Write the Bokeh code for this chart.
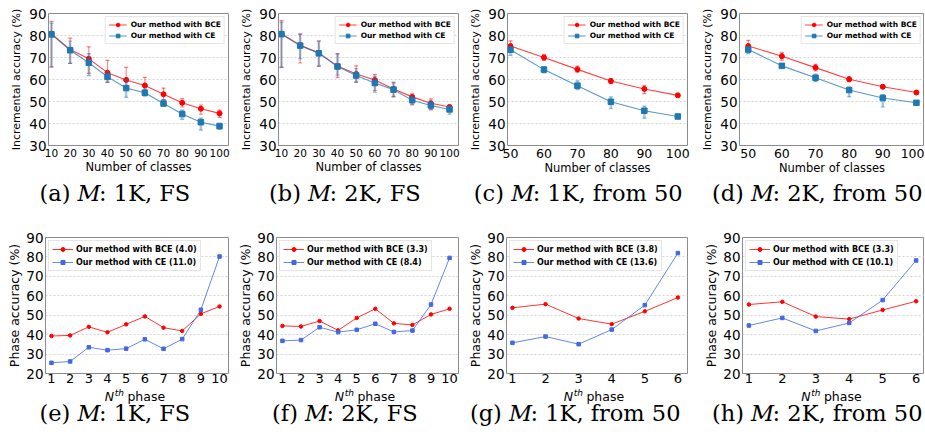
from bokeh.plotting import figure
from bokeh.models import ColumnDataSource, Legend, LegendItem, FixedTicker, Range1d
from bokeh.core.properties import value
from bokeh.layouts import row, column
from bokeh.embed import file_html
from bokeh.resources import INLINE

# ---------------- data ----------------
classes_fs = [10, 20, 30, 40, 50, 60, 70, 80, 90, 100]
classes_50 = [50, 60, 70, 80, 90, 100]
phases_fs = [1, 2, 3, 4, 5, 6, 7, 8, 9, 10]
phases_50 = [1, 2, 3, 4, 5, 6]
yticks_top = [30, 40, 50, 60, 70, 80, 90]
yticks_bot = [20, 30, 40, 50, 60, 70, 80, 90]

# (a) M: 1K, FS
a_bce = [80.8, 73.6, 69.4, 63.1, 59.8, 57.3, 53.3, 49.4, 46.7, 44.6]
a_bce_lo = [65.6, 67.3, 62.8, 58.7, 56.1, 55.1, 50.9, 47.5, 44.2, 42.8]
a_bce_hi = [86.4, 78.8, 74.8, 68.7, 65.5, 61.0, 56.1, 51.3, 48.4, 46.1]
a_ce = [80.5, 73.3, 67.6, 61.2, 56.1, 54.0, 49.1, 44.3, 40.6, 38.8]
a_ce_lo = [65.8, 67.3, 61.8, 58.7, 51.9, 52.4, 47.9, 41.9, 37.0, 37.4]
a_ce_hi = [85.6, 77.5, 71.8, 63.6, 59.9, 55.7, 50.9, 46.1, 42.4, 40.1]
# (b) M: 2K, FS
b_bce = [80.8, 75.6, 72.1, 66.1, 62.5, 59.8, 55.7, 52.1, 49.2, 47.5]
b_bce_lo = [65.5, 67.5, 66.0, 61.0, 58.8, 55.0, 52.3, 48.5, 46.2, 45.8]
b_bce_hi = [86.8, 80.5, 77.5, 71.8, 66.2, 62.3, 58.5, 53.5, 51.2, 48.5]
b_ce = [80.6, 75.4, 71.9, 65.9, 61.8, 58.4, 55.4, 50.6, 48.2, 46.4]
b_ce_lo = [65.5, 69.5, 66.2, 62.0, 58.8, 54.2, 52.0, 48.8, 46.5, 44.2]
b_ce_hi = [86.0, 80.8, 77.5, 71.5, 65.0, 61.5, 58.8, 52.5, 50.2, 48.0]
# (c) M: 1K, from 50
c_bce = [75.2, 70.0, 64.6, 59.3, 55.7, 52.8]
c_bce_lo = [73.3, 68.7, 63.3, 58.1, 53.6, 52.1]
c_bce_hi = [77.6, 71.3, 66.1, 60.4, 57.2, 53.3]
c_ce = [73.5, 64.5, 57.2, 49.9, 45.8, 43.2]
c_ce_lo = [71.0, 63.0, 55.4, 46.7, 42.4, 42.2]
c_ce_hi = [74.8, 65.8, 59.4, 52.1, 47.9, 44.0]
# (d) M: 2K, from 50
d_bce = [75.2, 70.6, 65.4, 60.1, 56.7, 54.1]
d_bce_lo = [73.0, 68.8, 63.9, 59.0, 56.0, 53.4]
d_bce_hi = [77.8, 72.2, 66.9, 61.2, 57.3, 54.6]
d_ce = [73.6, 66.2, 60.8, 55.2, 51.6, 49.4]
d_ce_lo = [71.8, 65.5, 59.0, 52.1, 47.5, 48.5]
d_ce_hi = [74.8, 67.0, 62.5, 56.6, 53.1, 50.1]
# phase accuracy
e_bce = [39.3, 39.6, 44.0, 41.2, 45.3, 49.4, 43.6, 41.9, 50.7, 54.5]
e_ce = [25.5, 26.2, 33.5, 32.0, 32.8, 37.6, 32.7, 37.7, 52.8, 80.2]
f_bce = [44.5, 44.2, 47.0, 42.2, 48.6, 53.3, 45.8, 45.0, 50.4, 53.3]
f_ce = [36.8, 37.2, 43.8, 41.3, 42.5, 45.6, 41.4, 42.1, 55.5, 79.5]
g_bce = [53.8, 55.7, 48.3, 45.4, 52.0, 59.1]
g_ce = [35.8, 39.0, 35.1, 42.6, 55.2, 82.0]
h_bce = [55.5, 56.9, 49.3, 48.0, 52.7, 57.2]
h_ce = [44.7, 48.6, 41.9, 46.0, 57.8, 78.2]

legend_top = ["Our method with BCE", "Our method with CE"]
legend_e = ["Our method with BCE (4.0)", "Our method with CE (11.0)"]
legend_f = ["Our method with BCE (3.3)", "Our method with CE (8.4)"]
legend_g = ["Our method with BCE (3.8)", "Our method with CE (13.6)"]
legend_h = ["Our method with BCE (3.3)", "Our method with CE (10.1)"]

SANS = "DejaVu Sans"
SERIF = "DejaVu Serif"
RED = "#ff0000"
BLUE_T = "#1f77b4"
BLUE_B = "#4169e1"

SERIF_W = {" ": .318, "(": .390, ")": .390, "a": .596, "b": .640, "c": .560, "d": .640,
           "e": .592, "f": .370, "g": .640, "h": .644, ":": .337, ",": .318, "K": .775,
           "F": .721, "S": .685, "r": .478, "o": .602, "m": .948}
for ch in "0123456789":
    SERIF_W[ch] = .636
SANS_W = {" ": .318, "p": .635, "h": .634, "a": .613, "s": .521, "e": .615, "t": .392, "N": .748}


def tw(s, table, size):
    return sum(table.get(ch, 0.6) for ch in s) * size


def put_text(p, x, y, s, font, size, style="normal"):
    p.text(x=[x], y=[y], text=[s], text_font=value(font), text_font_size=value("%gpx" % size),
           text_font_style=style, text_align="left", text_baseline="middle", text_color="black")


def caption_fig(width, height, letter, rest, cx, cy, nth_cx=None, nth_cy=None, size=22.5):
    p = figure(width=width, height=height, x_range=Range1d(0, width), y_range=Range1d(height, 0),
               output_backend="svg", toolbar_location=None, min_border=0,
               x_axis_type=None, y_axis_type=None)
    p.outline_line_color = None
    p.background_fill_color = "white"
    p.border_fill_color = "white"
    pre = "(%s)" % letter
    post = ": " + rest
    w_pre = tw(pre + " ", SERIF_W, size)
    w_m = 0.955 * size
    w_post = tw(post, SERIF_W, size)
    x0 = cx - (w_pre + w_m + w_post) / 2
    put_text(p, x0, cy, pre, SERIF, size)
    put_text(p, x0 + w_pre, cy, "M", SERIF, size, "italic")
    put_text(p, x0 + w_pre + w_m, cy, post, SERIF, size)
    if nth_cx is not None:
        fs, ss = 12.5, 9
        wN = tw("N", SANS_W, fs)
        wth = tw("th", SANS_W, ss)
        wsp = tw(" ", SANS_W, fs)
        wph = tw("phase", SANS_W, fs)
        x1 = nth_cx - (wN + wth + wsp + wph) / 2
        put_text(p, x1, nth_cy, "N", SANS, fs, "italic")
        put_text(p, x1 + wN + 0.5, nth_cy - 4, "th", SANS, ss, "italic")
        put_text(p, x1 + wN + wth + wsp, nth_cy, "phase", SANS, fs)
    return p


def style(p, yticks, xticks, tick_size):
    p.outline_line_color = "#8c8c8c"
    p.outline_line_width = 1
    p.xgrid.visible = False
    p.ygrid.ticker = FixedTicker(ticks=yticks)
    p.ygrid.grid_line_color = "#c8c8c8"
    p.ygrid.grid_line_dash = "2 2"
    p.ygrid.grid_line_width = 0.8
    p.xaxis.ticker = FixedTicker(ticks=xticks)
    p.yaxis.ticker = FixedTicker(ticks=yticks)
    for ax in p.xaxis + p.yaxis:
        ax.major_tick_out = 0
        ax.major_tick_in = 0
        ax.minor_tick_out = 0
        ax.minor_tick_in = 0
        ax.axis_line_color = None
        ax.major_label_text_font = SANS
        ax.major_label_text_color = "black"
        ax.axis_label_text_font = SANS
        ax.axis_label_text_font_style = "normal"
        ax.axis_label_text_color = "black"
    p.yaxis.major_label_text_font_size = "13.5px"
    p.xaxis.major_label_text_font_size = tick_size
    p.yaxis.major_label_standoff = 2
    p.background_fill_color = "white"
    p.border_fill_color = "white"


def make_legend(p, items, size, gw, gh, standoff, spacing, loc):
    lg = Legend(items=items, location=loc, margin=3, padding=3, spacing=spacing,
                glyph_width=gw, glyph_height=gh, label_height=gh, label_standoff=standoff,
                label_text_font=SANS, label_text_font_style="bold",
                label_text_font_size=size, label_text_color="black",
                border_line_color="#cccccc", border_line_width=1,
                background_fill_color="white", background_fill_alpha=0.85)
    p.add_layout(lg)


TOP_H, TOP_CAP_H = 177, 41
BOT_H, BOT_CAP_H = 170, 48


def top_panel(x, bce, bce_lo, bce_hi, ce, ce_lo, ce_hi, xr, width, left, right, tick_size):
    p = figure(width=width, height=TOP_H, x_range=Range1d(*xr), y_range=Range1d(30, 90),
               output_backend="svg", toolbar_location=None,
               min_border_left=left, min_border_right=right, min_border_top=13, min_border_bottom=30)
    style(p, yticks_top, x, tick_size)
    p.xaxis.major_label_standoff = 3
    p.yaxis.axis_label = "Incremental accuracy (%)"
    p.yaxis.axis_label_text_font_size = "11px"
    p.yaxis.axis_label_standoff = 3
    p.xaxis.axis_label = "Number of classes"
    p.xaxis.axis_label_text_font_size = "11.5px"
    p.xaxis.axis_label_standoff = 0
    src = ColumnDataSource(dict(x=x, bce=bce, blo=bce_lo, bhi=bce_hi, ce=ce, clo=ce_lo, chi=ce_hi))
    # BCE
    p.segment(x0="x", y0="blo", x1="x", y1="bhi", source=src, line_color=RED, line_alpha=0.45, line_width=1.2)
    for col in ("blo", "bhi"):
        p.scatter(x="x", y=col, source=src, marker="dash", size=4, line_color=RED, line_alpha=0.5, line_width=1.2)
    l1 = p.line("x", "bce", source=src, line_color=RED, line_alpha=0.75, line_width=1.1)
    m1 = p.scatter("x", "bce", source=src, marker="circle", size=5, fill_color=RED, line_color=RED)
    # CE
    p.segment(x0="x", y0="clo", x1="x", y1="chi", source=src, line_color=BLUE_T, line_alpha=0.4, line_width=2.5)
    for col in ("clo", "chi"):
        p.scatter(x="x", y=col, source=src, marker="dash", size=4, line_color=BLUE_T, line_alpha=0.5, line_width=1.2)
    l2 = p.line("x", "ce", source=src, line_color=BLUE_T, line_alpha=0.75, line_width=1.1)
    m2 = p.scatter("x", "ce", source=src, marker="square", size=5.5, fill_color=BLUE_T, line_color=BLUE_T)
    make_legend(p, [LegendItem(label=legend_top[0], renderers=[l1, m1]),
                    LegendItem(label=legend_top[1], renderers=[l2, m2])],
                "7.5px", 18, 9, 4, 2, "top_right")
    return p


def bottom_panel(x, bce, ce, labels, xr, width, left, right):
    p = figure(width=width, height=BOT_H, x_range=Range1d(*xr), y_range=Range1d(20, 90),
               output_backend="svg", toolbar_location=None,
               min_border_left=left, min_border_right=right, min_border_top=19, min_border_bottom=15)
    style(p, yticks_bot, x, "13px")
    p.xaxis.major_label_standoff = 0
    p.yaxis.axis_label = "Phase accuracy (%)"
    p.yaxis.axis_label_text_font_size = "12.5px"
    p.yaxis.axis_label_standoff = 1
    src = ColumnDataSource(dict(x=x, bce=bce, ce=ce))
    l1 = p.line("x", "bce", source=src, line_color=RED, line_alpha=0.8, line_width=1)
    m1 = p.scatter("x", "bce", source=src, marker="circle", size=3.5, fill_color=RED, line_color=RED)
    l2 = p.line("x", "ce", source=src, line_color=BLUE_B, line_alpha=0.8, line_width=1)
    m2 = p.scatter("x", "ce", source=src, marker="square", size=3.5, fill_color=BLUE_B, line_color=BLUE_B)
    make_legend(p, [LegendItem(label=labels[0], renderers=[l1, m1]),
                    LegendItem(label=labels[1], renderers=[l2, m2])],
                "8px", 21, 10, 3, 3, "top_left")
    return p


pa = top_panel(classes_fs, a_bce, a_bce_lo, a_bce_hi, a_ce, a_ce_lo, a_ce_hi, (8.4, 104.8), 235, 48, 7, "10.5px")
pb = top_panel(classes_fs, b_bce, b_bce_lo, b_bce_hi, b_ce, b_ce_lo, b_ce_hi, (8.4, 104.8), 230, 43, 7, "10.5px")
pc = top_panel(classes_50, c_bce, c_bce_lo, c_bce_hi, c_ce, c_ce_lo, c_ce_hi, (49.1, 102.9), 230, 42, 8, "12.5px")
pd = top_panel(classes_50, d_bce, d_bce_lo, d_bce_hi, d_ce, d_ce_lo, d_ce_hi, (47.4, 102.4), 229, 44, 0, "12.5px")

ca = caption_fig(235, TOP_CAP_H, "a", "1K, FS", 115, 15)
cb = caption_fig(230, TOP_CAP_H, "b", "2K, FS", 110, 15)
cc = caption_fig(230, TOP_CAP_H, "c", "1K, from 50", 113, 15)
cd = caption_fig(229, TOP_CAP_H, "d", "2K, from 50", 122, 15)

pe = bottom_panel(phases_fs, e_bce, e_ce, legend_e, (0.68, 10.48), 235, 45, 7)
pf = bottom_panel(phases_fs, f_bce, f_ce, legend_f, (0.68, 10.48), 230, 40, 7)
pg = bottom_panel(phases_50, g_bce, g_ce, legend_g, (0.82, 6.29), 230, 39, 8)
ph = bottom_panel(phases_50, h_bce, h_ce, legend_h, (0.81, 6.25), 229, 47, 0)

ce_ = caption_fig(235, BOT_CAP_H, "e", "1K, FS", 115, 24, 134.5, 8)
cf_ = caption_fig(230, BOT_CAP_H, "f", "2K, FS", 110, 24, 129.5, 8)
cg_ = caption_fig(230, BOT_CAP_H, "g", "1K, from 50", 110, 24, 128.5, 8)
ch_ = caption_fig(229, BOT_CAP_H, "h", "2K, from 50", 122, 24, 136, 8)

layout = column(row(pa, pb, pc, pd, spacing=0), row(ca, cb, cc, cd, spacing=0),
                row(pe, pf, pg, ph, spacing=0), row(ce_, cf_, cg_, ch_, spacing=0), spacing=0)

open("out.html", "w").write(file_html(layout, INLINE))
